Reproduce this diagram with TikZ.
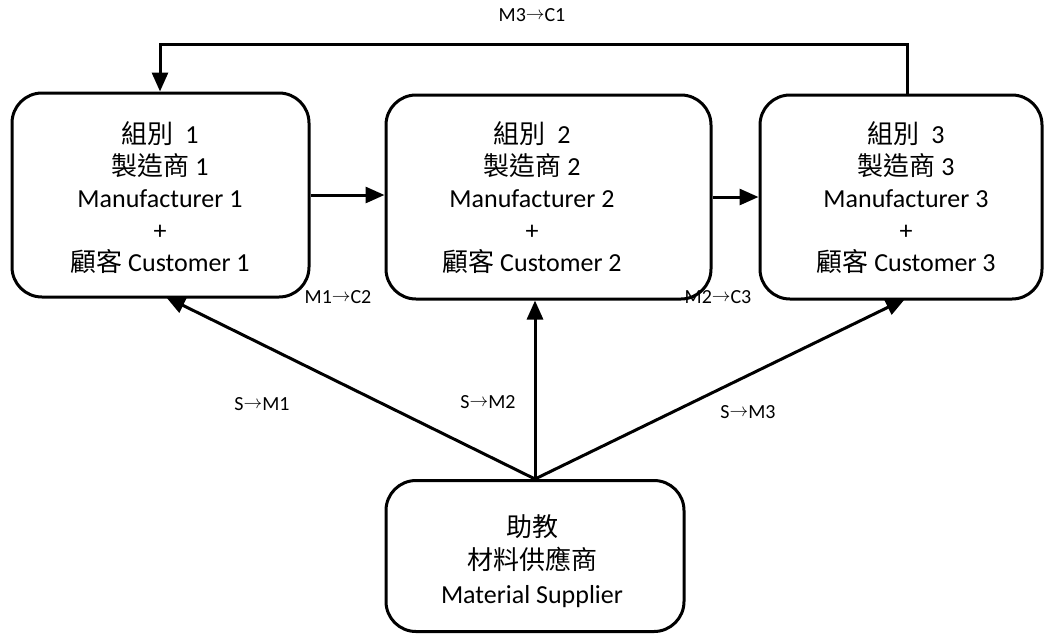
\documentclass[tikz,border=0pt]{standalone}
\usepackage{fontspec}
\setmainfont{Carlito}
\newfontfamily\cjk{Noto Sans CJK TC}
\usetikzlibrary{arrows.meta}
\tikzset{
  box/.style={draw, line width=3pt, rounded corners=30pt, inner sep=0pt},
  boxtext/.style={align=center, font=\fontsize{26}{32}\selectfont, inner sep=0pt},
  lbl/.style={font=\fontsize{20}{22}\selectfont, inner sep=0pt},
  arr/.style={line width=3pt, -{Triangle[length=19pt,width=16pt]}},
  ln/.style={line width=3pt}
}
\newcommand{\ar}{\raisebox{0.08em}{\scalebox{0.9}{$\rightarrow$}}}
\begin{document}
\begin{tikzpicture}[x=1pt,y=-1pt]
\useasboundingbox (0,0) rectangle (1052,633);
% boxes
\node[box, minimum width=297pt, minimum height=204pt] (b1) at (160.5,195) {};
\node[box, minimum width=325pt, minimum height=204pt] (b2) at (548.5,197) {};
\node[box, minimum width=282pt, minimum height=204pt] (b3) at (901,197) {};
\node[box, minimum width=298pt, minimum height=151pt] (s) at (535,556) {};
% texts
\node[boxtext] (t1) at (160,198) {{\cjk 組別}\ \ 1\\{\cjk 製造商} 1\\Manufacturer 1\\+\\{\cjk 顧客} Customer 1};
\node[boxtext] (t2) at (532,198) {{\cjk 組別}\ \ 2\\{\cjk 製造商} 2\\Manufacturer 2\\+\\{\cjk 顧客} Customer 2};
\node[boxtext] (t3) at (906,198) {{\cjk 組別}\ \ 3\\{\cjk 製造商} 3\\Manufacturer 3\\+\\{\cjk 顧客} Customer 3};
\node[boxtext, font=\fontsize{26}{33.5}\selectfont] (ts) at (532,561) {{\cjk 助教}\\{\cjk 材料供應商}\\Material Supplier};
% horizontal arrows
\draw[arr] (b1.east) -- (b1.east -| b2.west);
\draw[arr] (b2.east) -- (b2.east -| b3.west);
% top loop
\coordinate (tr) at (907,44);
\coordinate (tl) at (160,44);
\draw[arr] (tr |- b3.north) -- (tr) -- (tl) -- (tl |- b1.north);
% supplier arrows
\coordinate (e1) at (166,297);
\coordinate (e3) at (905,299);
\draw[arr] (s.north) -- (e1);
\draw[arr] (s.north) -- (b2.south -| s.north);
\draw[arr] (s.north) -- (e3);
% labels
\node[lbl] (l0) at (532,15) {M3\ar C1};
\node[lbl] (l1) at (338,297) {M1\ar C2};
\node[lbl] (l2) at (718,297) {M2\ar C3};
\node[lbl] (l3) at (262,404) {S\ar M1};
\node[lbl] (l4) at (488,402) {S\ar M2};
\node[lbl] (l5) at (748,412) {S\ar M3};
\end{tikzpicture}
\end{document}
